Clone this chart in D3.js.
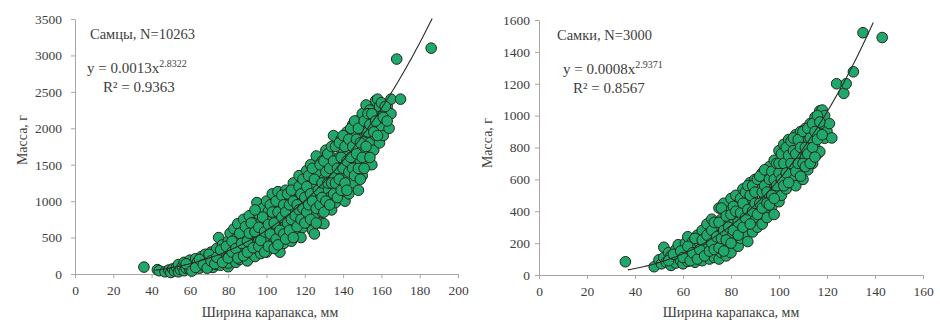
<!DOCTYPE html>
<html>
<head>
<meta charset="utf-8">
<script src="https://cdn.jsdelivr.net/npm/d3@7"></script>
<style>
  body { margin: 0; background: #fff; }
  svg text { font-family: "Liberation Serif", "Times New Roman", serif; fill: #404040; }
</style>
</head>
<body>
<div id="chart"></div>
<script>
// males: [carapace width, mass]
const malePoints = [
  [36,95],[43,60],[44,45],[47,30],[49,55],[50,20],[51,70],[52,40],[53,90],[54,30],[54,130],[55,60],
  [56,100],[57,45],[57,160],[58,80],[59,120],[60,60],[60,190],[61,100],[62,150],[62,70],[63,210],
  [64,110],[64,170],[65,80],[66,140],[66,240],[67,190],[68,100],[68,270],[69,150],[70,220],[70,110],
  [71,300],[72,170],[72,90],[73,250],[74,350],[74,130],[75,500],[75,200],[76,280],[76,120],[77,400],
  [78,180],[78,330],[79,260],[80,100],[80,450],[80,150],[81,560],[81,300],[82,220],[83,380],[83,620],
  [84,160],[84,480],[85,280],[85,690],[86,400],[86,200],[87,550],[88,320],[88,750],[89,250],[89,460],
  [90,620],[90,180],[91,380],[91,800],[92,520],[92,290],[93,700],[93,430],[94,240],[95,980],[95,600],
  [95,350],[96,820],[96,480],[97,280],[97,700],[98,560],[98,900],[99,400],[99,760],[100,300],[100,640],
  [100,1000],[101,500],[101,860],[102,380],[102,720],[103,1100],[103,580],[104,950],[104,450],[105,800],
  [105,650],[106,1130],[106,520],[107,300],[107,900],[107,700],[108,1000],[108,600],[109,420],[109,820],
  [110,1150],[110,700],[111,540],[111,960],[112,1080],[112,780],[113,450],[113,880],[114,650],[114,1250],
  [115,1000],[115,560],[116,800],[116,1150],[117,700],[117,1350],[118,930],[118,500],[119,1080],[119,640],
  [120,1250],[120,820],[121,1420],[121,1000],[122,700],[122,1150],[123,900],[123,1500],[124,1300],[124,600],
  [125,550],[125,1050],[125,800],[126,1620],[126,1200],[127,950],[127,1400],[128,700],[128,1100],[129,1550],
  [129,850],[130,690],[130,1300],[130,1000],[131,1700],[131,1150],[132,900],[132,1450],[133,1250],[133,1050],
  [134,1600],[134,880],[135,1900],[135,1350],[135,1100],[136,1500],[136,980],[137,1750],[137,1250],[138,1050],
  [138,1600],[139,1400],[139,1850],[140,1150],[140,1700],[141,1500],[141,1000],[142,1950],[142,1300],[143,1650],
  [143,1100],[144,1800],[144,1450],[145,2050],[145,1250],[146,1600],[146,1900],[147,1400],[147,2100],[148,1750],
  [148,1150],[149,2000],[149,1550],[150,1350],[150,1850],[150,2200],[151,1650],[152,2320],[152,1950],[153,1500],
  [153,2100],[154,1800],[154,2250],[155,1500],[155,2000],[156,1700],[156,2200],[157,2380],[157,1900],[158,2400],
  [158,2100],[159,1800],[160,2250],[160,2000],[161,1900],[162,2150],[163,2300],[164,2000],[165,2200],[165,2400],
  [168,2950],[170,2400],[186,3100],
  [58,140],[61,40],[63,90],[65,200],[67,130],[69,80],[70,270],[71,180],[73,140],[74,230],[76,330],[77,160],
  [79,380],[80,220],[82,450],[82,300],[84,350],[85,220],[86,560],[87,420],[88,250],[89,650],[90,450],[90,300],
  [91,560],[92,700],[93,360],[94,580],[94,880],[96,380],[96,640],[97,460],[98,780],[99,300],[99,580],[101,380],
  [101,680],[102,950],[102,550],[103,850],[104,700],[104,350],[105,1000],[105,480],[106,850],[106,400],[107,600],
  [108,780],[108,1080],[109,550],[109,950],[110,850],[110,480],[111,1100],[111,700],[112,600],[112,950],[113,1150],
  [113,750],[114,500],[114,1000],[115,800],[116,950],[116,650],[117,1200],[117,880],[118,1100],[118,750],[119,1300],
  [119,900],[120,1050],[120,700],[121,850],[121,1200],[122,1350],[122,950],[123,1100],[123,750],[124,1000],[124,1450],
  [125,1300],[126,900],[126,700],[127,1150],[128,1500],[128,950],[129,1250],[129,1050],[130,1550],[130,850],[131,1400],
  [131,1000],[132,1250],[132,1650],[133,1450],[133,950],[134,1250],[134,1750],[135,1550],[136,1250],[136,1750],
  [137,1450],[137,1050],[138,1300],[138,1800],[139,1150],[139,1600],[140,1450],[140,1900],[141,1250],[141,1750],
  [142,1550],[142,1150],[143,1850],[143,1400],[144,1600],[144,2000],[145,1450],[145,1750],[146,1350],[146,2100],
  [147,1650],[147,1850],[148,1450],[148,2000],[149,1800],[149,1300],[150,1600],[151,2100],[151,1450],[152,1750],
  [153,1950],[153,2200],[154,1600],[154,2050],[155,2200],[156,1950],[157,2100],[158,1900],[159,2300],[160,2350],
  [161,2150],[162,2300],[163,2100]
];

// females: [carapace width, mass]
const femalePoints = [
  [36,83],[48,52],[50,95],[51,70],[52,174],[52,110],[53,80],[54,140],[55,60],[55,120],[56,95],[57,160],
  [57,75],[58,120],[58,190],[59,90],[60,150],[60,70],[61,200],[61,110],[62,240],[62,85],[63,160],[63,130],
  [64,100],[64,210],[65,180],[65,80],[66,140],[66,250],[67,110],[67,200],[68,280],[68,90],[69,160],[69,230],
  [70,120],[70,320],[70,190],[71,100],[71,260],[72,350],[72,150],[73,220],[73,110],[74,300],[74,180],[75,420],
  [75,100],[75,250],[76,140],[76,350],[77,210],[77,450],[78,120],[78,300],[79,180],[79,400],[80,250],[80,480],
  [80,140],[81,350],[81,200],[82,500],[82,280],[83,180],[83,420],[84,320],[84,230],[85,540],[85,380],[86,260],
  [86,470],[87,210],[87,330],[88,580],[88,420],[89,270],[89,500],[90,350],[90,600],[91,300],[91,450],[92,550],
  [92,380],[93,320],[93,640],[94,480],[94,400],[95,600],[95,360],[96,520],[96,680],[97,430],[97,580],[98,380],
  [98,720],[99,500],[99,640],[100,460],[100,780],[100,560],[101,700],[101,500],[102,620],[102,820],[103,540],
  [103,740],[104,660],[104,850],[105,580],[105,780],[106,700],[106,620],[107,880],[107,560],[108,760],[108,650],
  [109,900],[109,700],[110,600],[110,820],[111,740],[111,920],[112,660],[112,860],[113,780],[113,950],[114,700],
  [114,880],[115,990],[115,800],[116,760],[117,1030],[117,774],[117,900],[118,1035],[118,950],[119,858],[119,1000],
  [120,900],[121,950],[122,860],[124,1200],[127,1140],[128,1200],[131,1275],[135,1520],[143,1490],
  [54,90],[56,130],[59,150],[60,110],[62,180],[63,90],[64,140],[65,230],[66,100],[67,160],[68,220],[69,120],
  [70,250],[71,150],[72,200],[72,280],[73,330],[73,160],[74,240],[75,170],[75,330],[76,230],[76,420],[77,280],
  [77,150],[78,370],[78,220],[79,300],[80,380],[80,200],[81,430],[81,280],[82,400],[83,250],[83,330],[84,480],
  [84,390],[85,300],[85,450],[86,520],[86,360],[87,410],[87,560],[88,320],[88,500],[89,400],[89,560],[90,450],
  [90,520],[91,380],[91,600],[92,450],[92,620],[93,520],[93,420],[94,560],[94,660],[95,450],[95,520],[96,440],
  [96,600],[97,650],[97,500],[98,600],[98,480],[99,700],[99,560],[100,640],[100,700],[101,600],[101,760],[102,560],
  [102,700],[103,640],[103,800],[104,580],[104,750],[105,700],[105,840],[106,780],[106,860],[107,650],[107,760],
  [108,850],[108,700],[109,620],[109,800],[110,700],[110,900],[111,800],[111,680],[112,760],[112,920],[113,700],
  [113,860],[114,800],[114,950],[115,740],[115,900],[116,850],[116,1000],[117,960],[118,880]
];

// trend line coefficients as printed on the chart, and the width range the line covers
const maleFit = { a: 0.0013, b: 2.8322, from: 42, to: 186.5 };
const femaleFit = { a: 0.0008, b: 2.9371, from: 37, to: 139.3 };

const maleXTicks = [0, 20, 40, 60, 80, 100, 120, 140, 160, 180, 200];
const maleYTicks = [0, 500, 1000, 1500, 2000, 2500, 3000, 3500];
const femaleXTicks = [0, 20, 40, 60, 80, 100, 120, 140, 160];
const femaleYTicks = [0, 200, 400, 600, 800, 1000, 1200, 1400, 1600];

const svg = d3.select("#chart").append("svg")
  .attr("width", 940)
  .attr("height", 324);

const draw_panel = (opts) => {
  const x = d3.scaleLinear().domain([0, d3.max(opts.xTicks)]).range([opts.left, opts.right]);
  const y = d3.scaleLinear().domain([0, d3.max(opts.yTicks)]).range([opts.bottom, opts.top]);

  const g = svg.append("g");

  // x axis
  const xa = g.append("g")
    .attr("transform", `translate(0, ${opts.bottom})`)
    .call(d3.axisBottom(x).tickValues(opts.xTicks).tickFormat(d3.format("d"))
      .tickSize(4).tickPadding(7).tickSizeOuter(0));
  // y axis
  const ya = g.append("g")
    .attr("transform", `translate(${opts.left}, 0)`)
    .call(d3.axisLeft(y).tickValues(opts.yTicks).tickFormat(d3.format("d"))
      .tickSize(4).tickPadding(opts.yPad).tickSizeOuter(0));

  [xa, ya].forEach((a) => {
    a.selectAll("path, line").attr("stroke", "#a6a6a6");
    a.selectAll("text").style("font-size", "13.5px").attr("fill", "#404040");
  });

  // points
  g.append("g")
    .selectAll("circle")
    .data(opts.points)
    .join("circle")
    .attr("cx", (d) => x(d[0]))
    .attr("cy", (d) => y(d[1]))
    .attr("r", 5.3)
    .attr("fill", "#1fa86c")
    .attr("stroke", "#26261a")
    .attr("stroke-width", 1);

  // power trend line from the printed equation
  const fit = opts.fit;
  const xs = d3.range(fit.from, fit.to, 0.5).concat([fit.to]);
  const line = d3.line()
    .x((d) => x(d))
    .y((d) => y(fit.a * Math.pow(d, fit.b)));
  g.append("path")
    .datum(xs)
    .attr("d", line)
    .attr("fill", "none")
    .attr("stroke", "#2b2b2b")
    .attr("stroke-width", 1.1);

  // axis titles
  g.append("text")
    .attr("x", opts.xTitleX)
    .attr("y", 317)
    .attr("text-anchor", "middle")
    .style("font-size", "14px")
    .text("Ширина карапакса, мм");

  g.append("text")
    .attr("transform", `translate(${opts.yTitleX}, ${opts.yTitleY}) rotate(-90)`)
    .attr("text-anchor", "middle")
    .style("font-size", "14px")
    .text("Масса, г");

  // annotation
  g.append("text")
    .attr("x", opts.noteX)
    .attr("y", opts.noteY)
    .style("font-size", "14.5px")
    .text(opts.note);

  const eq = g.append("text")
    .attr("x", opts.eqX)
    .attr("y", opts.noteY + 34)
    .style("font-size", "15px");
  eq.append("tspan").text(`y = ${fit.a}x`);
  eq.append("tspan").attr("dy", -6).style("font-size", "10px").text(fit.b);

  g.append("text")
    .attr("x", opts.rX)
    .attr("y", opts.noteY + 53)
    .style("font-size", "15px")
    .text(opts.r2);
};

draw_panel({
  points: malePoints, fit: maleFit, xTicks: maleXTicks, yTicks: maleYTicks,
  left: 75, right: 458, top: 19, bottom: 274, yPad: 9,
  xTitleX: 270, yTitleX: 27, yTitleY: 140,
  note: "Самцы, N=10263", noteX: 90, noteY: 39, eqX: 87, rX: 103,
  r2: "R² = 0.9363"
});

draw_panel({
  points: femalePoints, fit: femaleFit, xTicks: femaleXTicks, yTicks: femaleYTicks,
  left: 539, right: 923, top: 20, bottom: 275, yPad: 5,
  xTitleX: 731, yTitleX: 492, yTitleY: 143,
  note: "Самки, N=3000", noteX: 557, noteY: 40, eqX: 563, rX: 573,
  r2: "R² = 0.8567"
});
</script>
</body>
</html>
